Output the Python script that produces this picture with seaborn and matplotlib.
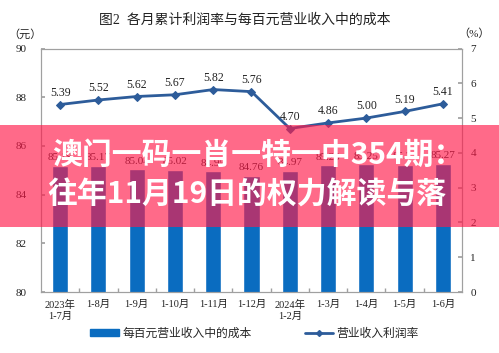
import numpy as np
import pandas as pd
import matplotlib
matplotlib.use("Agg")
import matplotlib.pyplot as plt
import seaborn as sns
from matplotlib.patches import Rectangle, Patch
from matplotlib.lines import Line2D
from matplotlib.ticker import FixedLocator

# data
months = ["2023年\n1-7月", "1-8月", "1-9月", "1-10月", "1-11月", "1-12月",
          "2024年\n1-2月", "1-3月", "1-4月", "1-5月", "1-6月"]
cost = [85.18, 85.17, 85.04, 85.02, 84.95, 84.76, 84.97, 85.20, 85.25, 85.22, 85.27]
profit_rate = [5.39, 5.52, 5.62, 5.67, 5.82, 5.76, 4.70, 4.86, 5.00, 5.19, 5.41]

df = pd.DataFrame({"month": months, "cost": cost, "rate": profit_rate})
df["pos"] = np.arange(len(df))

sns.set_theme(style="white")
plt.rcParams["font.family"] = ["Liberation Serif", "Noto Sans CJK SC"]
plt.rcParams["axes.unicode_minus"] = False

bar_color = "#0a6cc0"
line_color = "#2d5c9a"
frame_color = "#a0a0a0"

fig = plt.figure(figsize=(4.99, 3.53), dpi=100)
ax = fig.add_axes([41 / 499, 1 - 292 / 353, 421 / 499, 243.5 / 353])

sns.barplot(data=df, x="month", y="cost", color=bar_color, width=0.42,
            saturation=1, ax=ax, zorder=2)
ax.set_ylim(80, 90)
ax.set_xlim(-0.5, len(df) - 0.5)
ax.set_yticks(np.arange(80, 91, 2))
ax.set_xlabel("")
ax.set_ylabel("")
for i, v in enumerate(cost):
    ax.text(i, v + 0.15, f"{v:.2f}", ha="center", va="bottom", fontsize=8, color="#222222")

ax2 = ax.twinx()
sns.lineplot(data=df, x="pos", y="rate", color=line_color, marker="D", markersize=4,
             markeredgecolor=line_color, linewidth=2, ax=ax2, zorder=3)
ax2.set_ylim(0, 7)
ax2.set_yticks(np.arange(0, 8, 1))
ax2.set_xlim(-0.5, len(df) - 0.5)
ax2.set_xlabel("")
ax2.set_ylabel("")
for i, v in enumerate(profit_rate):
    ax2.text(i, v + 0.17, f"{v:.2f}", ha="center", va="bottom", fontsize=8.5, color="#222222")

for a in (ax, ax2):
    for s in a.spines.values():
        s.set_color(frame_color)
        s.set_linewidth(0.8)

ax.tick_params(axis="y", direction="in", length=3, color=frame_color, labelsize=8,
               pad=10, labelcolor="#222222", left=True)
ax2.tick_params(axis="y", direction="in", length=3, color=frame_color, labelsize=8,
                pad=6, labelcolor="#222222", right=True)
ax.tick_params(axis="x", which="major", length=0, labelsize=7.5, pad=6, labelcolor="#222222")
ax.xaxis.set_minor_locator(FixedLocator(np.arange(0.5, len(df) - 1, 1)))
ax.tick_params(axis="x", which="minor", direction="in", length=3, color=frame_color, bottom=True)

fig.text(0.49, 1 - 20 / 353, "图2  各月累计利润率与每百元营业收入中的成本",
         ha="center", va="center", fontsize=10, color="#222222")
fig.text(25 / 499, 1 - 34 / 353, "（元）", ha="center", va="center", fontsize=8, color="#222222")
fig.text(474 / 499, 1 - 34 / 353, "（%）", ha="center", va="center", fontsize=8, color="#222222")

handles = [Patch(facecolor=bar_color, edgecolor=bar_color),
           Line2D([], [], color=line_color, marker="D", markersize=3, linewidth=2)]
fig.legend(handles, ["每百元营业收入中的成本", "营业收入利润率"], loc="center",
           bbox_to_anchor=(0.51, 1 - 334 / 353), ncol=2, frameon=False, fontsize=8.5,
           handlelength=2.4, handleheight=0.5, columnspacing=4.5, handletextpad=0.3)

# overlay banner
fig.patches.append(Rectangle((0, 1 - 227 / 353), 1, 102 / 353, transform=fig.transFigure,
                             facecolor="#ff1a4a", alpha=0.65, edgecolor="none", zorder=10))
fig.text(52 / 499, 1 - 155 / 353, "澳门一码一肖一特一中354期：", ha="left", va="center",
         fontsize=21.5, fontweight="bold", color="white", family=["Noto Sans CJK SC"], zorder=11)
fig.text(47 / 499, 1 - 195 / 353, "往年11月19日的权力解读与落", ha="left", va="center",
         fontsize=21.5, fontweight="bold", color="white", family=["Noto Sans CJK SC"], zorder=11)

fig.savefig("out.png", dpi=100)
